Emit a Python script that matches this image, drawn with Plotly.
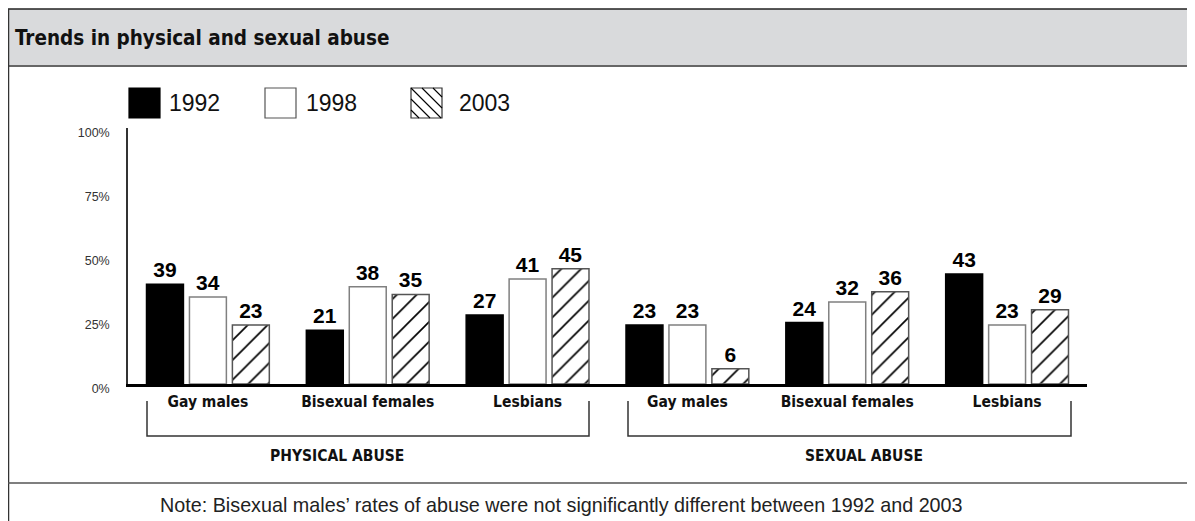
import plotly.graph_objects as go

# ---- data ----
category_labels = ["Gay males", "Bisexual females", "Lesbians", "Gay males", "Bisexual females", "Lesbians"]
years = ["1992", "1998", "2003"]
vals_1992 = [39, 21, 27, 23, 24, 43]
vals_1998 = [34, 38, 41, 23, 32, 23]
vals_2003 = [23, 35, 45, 6, 36, 29]
y_ticks = [0, 25, 50, 75, 100]
y_tick_labels = ["0%", "25%", "50%", "75%", "100%"]
group_labels = ["PHYSICAL ABUSE", "SEXUAL ABUSE"]
title_text = "Trends in physical and sexual abuse"
note_text = "Note: Bisexual males\u2019 rates of abuse were not significantly different between 1992 and 2003"

W, H = 1195, 521
OFF = 8  # page body margin
def px(x):
    return (x - OFF) / W
def py(y):
    return 1 - (y - OFF) / H

NARROW = "Liberation Sans Narrow, DejaVu Sans Condensed, Arial Narrow, sans-serif"
SANS = "Liberation Sans, Arial, sans-serif"

xs = list(range(len(category_labels)))
fig = go.Figure()
styles = [
    dict(color="black", line=dict(color="black", width=1.5)),
    dict(color="white", line=dict(color="#808080", width=1.5)),
    dict(color="white", line=dict(color="#555555", width=1.5),
         pattern=dict(shape="/", fgcolor="black", bgcolor="white", fgopacity=1, size=14, solidity=0.12)),
]
for name, vals, st in zip(years, [vals_1992, vals_1998, vals_2003], styles):
    fig.add_trace(go.Bar(
        x=xs, y=vals, name=name, marker=st,
        texttemplate="%{y}", textposition="outside",
        outsidetextfont=dict(family=SANS, size=21, color="black", weight="bold"),
        cliponaxis=False, showlegend=False, hoverinfo="skip",
    ))

shapes = []
# title band
shapes.append(dict(type="rect", xref="paper", yref="paper", x0=px(8), x1=px(1203),
                   y0=py(66), y1=py(9), fillcolor="#d9dadc", line=dict(width=0), layer="below"))
shapes.append(dict(type="line", xref="paper", yref="paper", x0=px(8), x1=px(1203),
                   y0=py(9), y1=py(9), line=dict(color="#222", width=1.5)))
shapes.append(dict(type="line", xref="paper", yref="paper", x0=px(8), x1=px(1203),
                   y0=py(66), y1=py(66), line=dict(color="#666", width=2)))
# left border
shapes.append(dict(type="line", xref="paper", yref="paper", x0=px(8.5), x1=px(8.5),
                   y0=py(9), y1=py(529), line=dict(color="#333", width=1.5)))
# note separator
shapes.append(dict(type="line", xref="paper", yref="paper", x0=px(8), x1=px(1203),
                   y0=py(483), y1=py(483), line=dict(color="#555", width=1.5)))
# brackets
for (a, b) in [(147, 589), (628, 1071)]:
    shapes.append(dict(type="path", xref="paper", yref="paper",
                       path=f"M {px(a)},{py(401)} L {px(a)},{py(436)} L {px(b)},{py(436)} L {px(b)},{py(401)}",
                       line=dict(color="#333", width=1.5)))

# legend swatches
sw_x = [129, 265, 411]
sw_y0, sw_y1 = 88, 118
swatch_fill = ["black", "white", "white"]
swatch_line = ["black", "#555", "#333"]
for i, x0 in enumerate(sw_x):
    x1 = x0 + 31
    shapes.append(dict(type="rect", xref="paper", yref="paper", x0=px(x0), x1=px(x1),
                       y0=py(sw_y1), y1=py(sw_y0), fillcolor=swatch_fill[i],
                       line=dict(color=swatch_line[i], width=1.2)))
# backslash hatch in the 2003 swatch
x0 = sw_x[2]; x1 = x0 + 31; s = 30
for d in [-22, -11, 0, 11, 22]:
    xa = max(x0, x0 + d); ya = sw_y0 + (xa - (x0 + d))
    xb = min(x1, x0 + d + s); yb = sw_y0 + (xb - (x0 + d))
    if yb > sw_y1:
        yb = sw_y1; xb = x0 + d + (sw_y1 - sw_y0)
    if xb - xa > 1:
        shapes.append(dict(type="line", xref="paper", yref="paper", x0=px(xa), x1=px(xb),
                           y0=py(ya), y1=py(yb), line=dict(color="black", width=1.1)))

annotations = []
annotations.append(dict(text=title_text, x=px(13), y=py(38), xref="paper", yref="paper",
                        xanchor="left", yanchor="middle", showarrow=False,
                        font=dict(family=NARROW, size=20.5, color="#111", weight="bold")))
annotations.append(dict(text=note_text, x=px(158), y=py(505), xref="paper", yref="paper",
                        xanchor="left", yanchor="middle", showarrow=False,
                        font=dict(family=SANS, size=19.75, color="#222")))
for lab, cx in zip(group_labels, [337, 864]):
    annotations.append(dict(text=lab, x=px(cx), y=py(456), xref="paper", yref="paper",
                            xanchor="center", yanchor="middle", showarrow=False,
                            font=dict(family=NARROW, size=15.5, color="#111", weight="bold")))
for yr, tx in zip(years, [167, 304, 457]):
    annotations.append(dict(text=yr, x=px(tx), y=py(103), xref="paper", yref="paper",
                            xanchor="left", yanchor="middle", showarrow=False,
                            font=dict(family=SANS, size=23, color="#111")))

fig.update_layout(
    width=W, height=H, margin=dict(l=0, r=0, t=0, b=0, pad=0, autoexpand=False),
    paper_bgcolor="white", plot_bgcolor="white",
    barmode="group", bargap=0.194, bargroupgap=0.14,
    shapes=shapes, annotations=annotations,
    xaxis=dict(domain=[px(128), px(1087)], range=[-0.5, 5.5], tickvals=xs, ticktext=category_labels,
               showline=True, linecolor="black", linewidth=3, ticks="", showgrid=False, zeroline=False,
               ticklabelstandoff=1, automargin=False,
               tickfont=dict(family=NARROW, size=15.5, color="#111", weight="bold"), fixedrange=True),
    yaxis=dict(domain=[py(384), py(128)], range=[0, 100], tickvals=y_ticks, ticktext=y_tick_labels,
               showline=True, linecolor="#333", linewidth=1.5, ticks="", showgrid=False, zeroline=False,
               ticklabelstandoff=14, ticklabelshift=5, automargin=False,
               tickfont=dict(family=SANS, size=12.5, color="#333"), fixedrange=True),
)

fig.write_html("out.html")
